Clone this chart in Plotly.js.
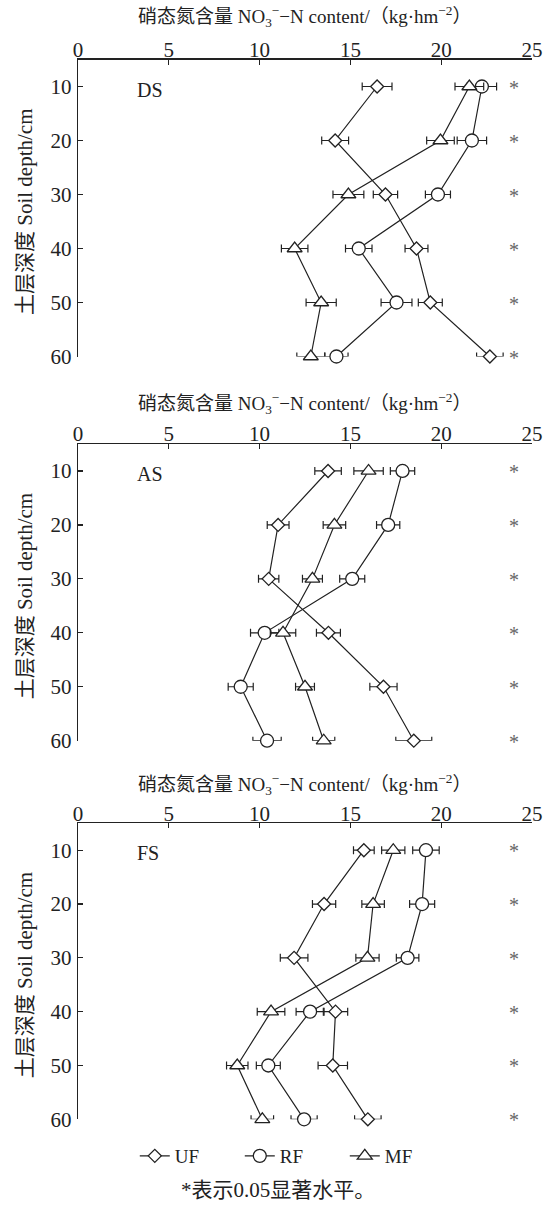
<!DOCTYPE html>
<html>
<head>
<meta charset="utf-8">
<script src="https://cdn.plot.ly/plotly-3.0.1.min.js"></script>
<style>html,body{margin:0;padding:0;background:#fff;}#chart{width:552px;height:1205px;}</style>
</head>
<body>
<div id="chart"></div>
<script>
// ---- data ----
const depths = [10, 20, 30, 40, 50, 60];
const panels = ['DS', 'AS', 'FS'];
const seriesNames = ['UF', 'RF', 'MF'];
const sigMarks = ['*', '*', '*', '*', '*', '*'];

// DS
const DS_UF = [16.47, 14.16, 16.93, 18.64, 19.40, 22.68];
const DS_UF_err = [0.82, 0.74, 0.67, 0.63, 0.66, 0.73];
const DS_RF = [22.24, 21.69, 19.82, 15.46, 17.54, 14.23];
const DS_RF_err = [0.81, 0.81, 0.69, 0.73, 0.85, 0.64];
const DS_MF = [21.55, 19.96, 14.89, 11.93, 13.39, 12.82];
const DS_MF_err = [0.79, 0.76, 0.85, 0.73, 0.83, 0.77];
// AS
const AS_UF = [13.77, 11.02, 10.50, 13.79, 16.82, 18.49];
const AS_UF_err = [0.73, 0.60, 0.56, 0.66, 0.75, 0.99];
const AS_RF = [17.87, 17.08, 15.10, 10.28, 8.96, 10.41];
const AS_RF_err = [0.67, 0.64, 0.69, 0.78, 0.69, 0.78];
const AS_MF = [16.00, 14.12, 12.91, 11.29, 12.50, 13.53];
const AS_MF_err = [0.81, 0.62, 0.55, 0.70, 0.52, 0.61];
// FS
const FS_UF = [15.74, 13.55, 11.90, 14.18, 14.03, 15.96];
const FS_UF_err = [0.57, 0.64, 0.76, 0.67, 0.81, 0.73];
const FS_RF = [19.16, 18.95, 18.15, 12.78, 10.48, 12.45];
const FS_RF_err = [0.73, 0.69, 0.62, 0.77, 0.66, 0.72];
const FS_MF = [17.36, 16.25, 15.94, 10.63, 8.77, 10.15];
const FS_MF_err = [0.64, 0.62, 0.64, 0.76, 0.59, 0.62];

const xTickVals = [0, 5, 10, 15, 20, 25];
const yTickVals = [10, 20, 30, 40, 50, 60];
const xTitle = '硝态氮含量 NO<sub>3</sub><sup>−</sup>−N content/（kg·hm<sup>−2</sup>）';
const yTitle = '土层深度 Soil depth/cm';
const footnote = '*表示0.05显著水平。';

// ---- build ----
const panelData = {
  DS: [[DS_UF, DS_UF_err], [DS_RF, DS_RF_err], [DS_MF, DS_MF_err]],
  AS: [[AS_UF, AS_UF_err], [AS_RF, AS_RF_err], [AS_MF, AS_MF_err]],
  FS: [[FS_UF, FS_UF_err], [FS_RF, FS_RF_err], [FS_MF, FS_MF_err]]
};
const symbols = ['diamond', 'circle', 'triangle-up'];
const sizes = [10, 13, 13];

const W = 552, H = 1205;
const serif = "'Liberation Serif', 'Times New Roman', 'Noto Sans CJK SC', serif";
// plot-area pixel spans (top, bottom) for each panel
const spans = [[59.5, 356.5], [444, 740.7], [823.3, 1119.3]];
const titleY = [17, 404, 784];

const traces = [];
const layout = {
  width: W, height: H,
  margin: {l: 78, r: 20, t: 0, b: 0},
  paper_bgcolor: '#fff', plot_bgcolor: '#fff',
  font: {family: serif, color: '#222', size: 20},
  showlegend: true,
  legend: {orientation: 'h', x: 0.472, xanchor: 'center', y: 1 - 1156 / H, yanchor: 'middle',
           font: {size: 19, family: serif}, entrywidth: 60, entrywidthmode: 'pixels', traceorder: 'normal'},
  annotations: []
};

panels.forEach((p, pi) => {
  const sfx = pi === 0 ? '' : String(pi + 1);
  const xa = 'x' + sfx, ya = 'y' + sfx;
  panelData[p].forEach((s, si) => {
    traces.push({
      type: 'scatter', mode: 'lines+markers', cliponaxis: false,
      x: s[0], y: depths, xaxis: xa, yaxis: ya,
      name: seriesNames[si], showlegend: pi === 0, legendgroup: seriesNames[si],
      line: {color: '#222', width: 1.2},
      marker: {symbol: symbols[si], size: sizes[si], color: '#fff', line: {color: '#222', width: 1.3}},
      error_x: {type: 'data', array: s[1], visible: true, color: '#222', thickness: 1.2, width: 4}
    });
  });
  const top = spans[pi][0], bot = spans[pi][1];
  layout['xaxis' + sfx] = {
    domain: [0, 1], anchor: ya, side: 'top', range: [0, 25],
    tickvals: xTickVals, ticks: 'inside', ticklen: 5, tickwidth: 1.2, tickcolor: '#222',
    showline: true, linecolor: '#222', linewidth: 1.2, showgrid: false, zeroline: false,
    tickfont: {size: 21, family: serif, color: '#222'}, ticklabelstandoff: -7, fixedrange: true
  };
  layout['yaxis' + sfx] = {
    domain: [1 - bot / H, 1 - top / H], anchor: xa, range: [60, 5],
    tickvals: yTickVals, ticks: 'inside', ticklen: 5, tickwidth: 1.2, tickcolor: '#222',
    showline: true, linecolor: '#222', linewidth: 1.2, showgrid: false, zeroline: false,
    tickfont: {size: 21, family: serif, color: '#222'}, ticklabelstandoff: 1, fixedrange: true
  };
  // axis titles
  layout.annotations.push({
    text: xTitle, xref: 'paper', yref: 'paper', x: 0.5, y: 1 - titleY[pi] / H,
    xanchor: 'center', yanchor: 'middle', showarrow: false, font: {size: 19, family: serif, color: '#222'}
  });
  layout.annotations.push({
    text: yTitle, xref: 'paper', yref: 'paper', x: (25 - 78) / 454, y: 1 - ((top + bot) / 2 + 4) / H,
    xanchor: 'center', yanchor: 'middle', textangle: -90, showarrow: false,
    font: {size: 21, family: serif, color: '#222'}
  });
  // panel label
  layout.annotations.push({
    text: p, xref: xa, yref: ya, x: 3.15, y: 10, xanchor: 'left', yanchor: 'middle', yshift: -3,
    showarrow: false, font: {size: 20, family: serif, color: '#222'}
  });
  // significance marks
  sigMarks.forEach((m, i) => {
    layout.annotations.push({
      text: m, xref: xa, yref: ya, x: 24, y: depths[i], xanchor: 'center', yanchor: 'middle', yshift: -1,
      showarrow: false, font: {size: 20, family: serif, color: '#666'}
    });
  });
});

layout.annotations.push({
  text: footnote, xref: 'paper', yref: 'paper', x: 0.44, y: 1 - 1190 / H,
  xanchor: 'center', yanchor: 'middle', showarrow: false, font: {size: 21, family: serif, color: '#222'}
});

Plotly.newPlot('chart', traces, layout, {displayModeBar: false, staticPlot: true});
</script>
</body>
</html>
